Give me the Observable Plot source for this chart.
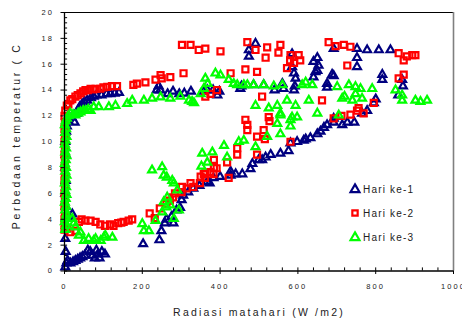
<!DOCTYPE html>
<html><head><meta charset="utf-8">
<script src="https://cdn.jsdelivr.net/npm/d3@7"></script>
<script src="https://cdn.jsdelivr.net/npm/@observablehq/plot@0.6"></script>
<style>
html,body{margin:0;padding:0;background:#fff;overflow:hidden;}
#wrap{position:relative;width:462px;height:320px;}
#wrap svg text{font-family:"Liberation Sans",Arial,sans-serif;fill:#222;}
g[aria-label="x-axis tick label"] text, g[aria-label="y-axis tick label"] text{letter-spacing:2.1px;}
#legend text{letter-spacing:1.2px;font-size:10px;}
</style>
</head><body>
<div id="wrap"></div>
<script>
const seriesNames = ["Hari ke-1","Hari ke-2","Hari ke-3"];
const seriesColors = ["#000080","#ff0000","#00ff00"];
const xTicks = [0,200,400,600,800,1000];
const yTicks = [0,2,4,6,8,10,12,14,16,18,20];
const xTitle = "Radiasi matahari (W /m2)";
const yTitle = "Perbedaan temperatur ( C";

// Hari ke-1 : [radiasi, perbedaan temperatur]
const day1 = [
[2,0.3],[5,0.6],[8,0.8],[15,0.6],[22,0.7],[28,0.8],[34,0.9],[40,1.0],[46,1.1],[52,1.2],[60,1.6],[66,1.5],[72,1.2],[78,1.0],[82,1.6],[86,1.3],[90,1.0],[96,1.5],[104,1.3],
[3,1.5],[2,2.5],[4,3.5],[10,4.2],[20,4.4],[3,5.0],[2,6.0],[3,7.0],[2,8.0],[3,9.0],[2,10.0],[4,10.8],[6,11.2],
[10,11.6],[18,11.9],[26,11.5],[31,12.2],[36,12.5],[39,12.7],[45,12.9],[51,13.1],[58,13.2],[68,13.4],[75,13.5],[82,13.6],[95,13.6],[108,13.7],[118,13.7],[129,13.75],[140,13.8],
[237,14.0],[242,14.3],[246,14.0],[265,13.7],[279,13.9],[295,13.7],[308,13.75],[325,13.9],[357,13.9],[367,14.0],[382,14.0],[393,13.6],[398,13.9],[452,14.1],[455,14.3],[486,14.4],[512,14.4],[540,14.0],[560,14.5],[563,14.1],[590,14.0],[592,14.3],[594,14.9],[590,15.3],[585,15.8],[585,16.8],[474,17.1],[474,16.6],[491,17.6],
[640,15.0],[645,15.4],[650,15.5],[653,15.9],[650,16.5],[640,16.2],[675,14.2],[675,14.5],[688,15.2],[692,15.1],[692,17.2],[752,17.2],[752,16.5],[752,15.8],[778,17.1],[808,17.1],[838,17.1],[817,14.8],[817,15.2],[868,14.8],[870,14.3],[858,13.6],[795,13.0],[800,13.3],[778,12.4],[765,12.2],
[202,2.1],[244,2.4],[249,3.1],[258,3.7],[262,4.0],[275,4.2],[280,3.7],[288,4.7],[297,4.9],[301,5.5],[305,5.85],[318,6.1],[331,6.4],[347,6.6],[367,6.9],[373,6.8],[383,7.2],[400,7.3],[427,7.4],[427,7.7],[440,7.5],[457,7.5],[478,7.9],[483,8.3],[499,8.6],[508,8.6],[517,8.8],[530,9.0],[555,9.1],[576,9.3],[581,9.9],[598,10.0],[615,10.1],[620,10.2],[632,10.3],[650,10.6],[658,10.8],[667,11.1],[675,11.3],[692,11.5],[692,11.8],[714,11.3],[727,11.5],[745,11.5]
];

// Hari ke-2
const day2 = [
[0,3.2],[1,3.6],[0,4.0],[1,4.5],[0,5.0],[1,5.5],[0,6.0],[1,6.5],[0,7.0],[1,7.5],[0,8.0],[1,8.5],[0,9.0],[1,9.5],[0,10.0],[1,10.5],[0,11.0],[1,11.5],[0,12.0],[2,12.4],
[6,12.8],[10,12.9],[15,13.2],[20,13.3],[28,13.5],[34,13.6],[41,13.75],[48,13.9],[54,14.0],[60,14.0],[67,14.1],[74,14.05],[80,14.1],[92,14.1],[100,14.2],[110,14.25],[122,14.3],[135,14.3],[177,14.4],[186,14.5],[208,14.6],[234,14.8],[247,15.15],[250,14.9],[272,15.0],[306,15.3],
[302,17.5],[324,17.5],[345,17.1],[362,17.2],[401,17.0],[427,15.3],[362,13.5],[375,13.7],[392,14.0],
[470,17.7],[491,17.1],[521,17.3],[517,16.5],[555,17.5],[550,16.9],[581,16.7],[602,16.7],[606,16.3],[590,16.1],[572,15.7],[580,16.3],[465,15.6],[495,15.4],[508,13.5],
[679,17.7],[697,17.4],[718,17.5],[735,17.35],[727,15.9],[859,16.85],[872,16.3],[880,16.6],[894,16.7],[902,16.7],[872,15.2],[859,14.9],[795,13.0],[756,12.6],[769,12.2],[752,12.4],[735,12.1],[712,12.0],[692,11.8],[662,13.2],
[465,11.7],[470,11.3],[470,10.9],[525,11.9],[527,11.6],[495,10.4],[512,10.9],[515,10.2],[444,9.5],[444,9.0],[495,9.0],[581,10.0],[384,8.6],[384,8.0],[418,8.4],[358,7.5],[375,7.65],[422,7.2],
[7,3.3],[15,3.0],[28,3.1],[37,3.8],[44,4.0],[54,3.9],[67,3.9],[80,3.8],[92,3.6],[104,3.5],[117,3.6],[126,3.5],[138,3.7],[146,3.75],[152,3.8],[165,3.9],[174,4.0],[219,4.45],[232,4.1],[245,4.85],[262,5.2],[271,5.45],[279,5.7],[284,6.0],[301,6.1],[302,6.5],[314,6.4],[324,6.8],[331,6.5],[348,6.8],[350,7.3],[361,7.2],[362,7.55],[383,7.5],[391,7.95]
];

// Hari ke-3
const day3 = [
[2,3.2],[4,3.5],[1,3.8],[3,4.1],[5,4.4],[2,4.7],[4,5.0],[1,5.3],[3,5.6],[5,5.9],[2,6.2],[4,6.5],[1,6.8],[3,7.1],[5,7.4],[2,7.7],[4,8.0],[1,8.3],[3,8.6],[5,8.9],[2,9.2],[4,9.5],[1,9.8],[3,10.1],[5,10.4],[2,10.7],[4,11.0],[1,11.3],[3,11.6],[6,11.8],
[10,12.0],[15,12.2],[22,12.1],[28,12.05],[35,12.2],[41,12.3],[48,12.4],[54,12.4],[61,12.5],[67,12.4],[75,12.7],[88,12.7],[114,12.7],[131,12.8],[161,12.95],[174,13.2],[204,13.2],[225,13.35],[247,13.45],[272,13.35],[298,13.5],[320,13.2],[328,13.1],[333,13.0],[350,13.7],[358,14.1],[362,14.9],[368,14.5],[388,15.3],[401,15.15],[422,14.8],[435,14.5],[444,14.4],[461,14.4],[470,14.4],[486,14.4],[512,14.4],[538,14.3],[560,14.4],[611,14.4],[620,14.6],[637,14.4],[701,14.25],[731,14.4],[748,14.25],[761,14.1],[791,14.1],[851,14.0],[868,13.6],[868,13.2],[902,13.2],[915,13.1],[932,13.2],
[491,12.8],[525,12.6],[547,12.8],[572,13.2],[594,12.8],[598,11.9],[585,11.9],[581,11.7],[555,12.05],[555,12.2],[628,13.2],[650,12.2],[714,13.35],[720,13.5],[748,13.7],[765,13.35],[740,13.2],[705,12.05],[547,11.4],[581,11.2],[555,10.6],[521,10.4],[461,10.1],[491,9.6],[410,9.7],[380,9.2],[418,8.8],[448,10.0],[367,8.4],[352,8.1],[354,9.1],
[3,4.05],[20,4.05],[24,3.7],[28,3.4],[41,3.0],[37,2.75],[50,2.35],[62,2.5],[75,2.35],[80,2.5],[93,2.35],[101,2.6],[105,2.75],[123,2.6],[200,3.65],[204,3.1],[217,3.1],[225,7.8],[251,8.05],[255,7.4],[263,7.25],[277,7.0],[281,6.8],[290,6.25],[281,4.05],[234,3.9],[251,4.55],[255,5.35],[264,5.7],[272,5.1],[294,4.7],[262,4.95]
];

const toRows = (arr) => arr.map(([x, y]) => ({x, y}));
const xMinor = d3.range(0, 1001, 40);
const yMinor = d3.range(0, 20.01, 0.4);

const chart = Plot.plot({
  width: 462, height: 320,
  marginLeft: 64, marginRight: 9, marginTop: 12, marginBottom: 49.5,
  x: {domain: [0, 1000]},
  y: {domain: [0, 20]},
  style: {fontFamily: "Liberation Sans, Arial, sans-serif", background: "#fff"},
  marks: [
    Plot.ruleX(xMinor, {y1: 0, y2: 0.24, stroke: "#000", strokeWidth: 1}),
    Plot.ruleY(yMinor, {x1: 0, x2: 8, stroke: "#000", strokeWidth: 1}),
    Plot.ruleY([20], {stroke: "#000", strokeWidth: 1.2}),
    Plot.ruleX([1000], {stroke: "#808080", strokeWidth: 1.6}),
    Plot.dot(toRows(day1), {x: "x", y: "y", symbol: "triangle", r: 2.9, stroke: seriesColors[0], fill: "none", strokeWidth: 2.2}),
    Plot.dot(toRows(day2), {x: "x", y: "y", symbol: "square", r: 3.4, stroke: seriesColors[1], fill: "none", strokeWidth: 2.2}),
    Plot.dot(toRows(day3), {x: "x", y: "y", symbol: "triangle", r: 2.9, stroke: seriesColors[2], fill: "none", strokeWidth: 2.2}),
    Plot.ruleY([0], {stroke: "#000", strokeWidth: 1.6}),
    Plot.ruleX([0], {stroke: "#000", strokeWidth: 1.3}),
    Plot.axisX({ticks: xTicks, tickSize: 3.5, tickPadding: 9, fontSize: 7.5, tickFormat: d => String(d), label: null, stroke: "#000"}),
    Plot.axisY({ticks: yTicks, tickSize: 3.5, tickPadding: 7, fontSize: 7.5, tickFormat: d => String(d), label: null, stroke: "#000"}),
    Plot.text([xTitle], {text: d => d, frameAnchor: "bottom", textAnchor: "middle", lineAnchor: "middle", dy: 41.5, fontSize: 10.5}),
    Plot.text([yTitle], {text: d => d, frameAnchor: "left", textAnchor: "middle", lineAnchor: "middle", dx: -47.5, dy: -6, rotate: -90, fontSize: 10.5})
  ]
});
document.getElementById("wrap").appendChild(chart);

// letter spacing of the axis titles
d3.select(chart).selectAll("text").each(function() {
  if (this.textContent === xTitle) d3.select(this).style("letter-spacing", "2.2px");
  if (this.textContent === yTitle) d3.select(this).style("letter-spacing", "2.7px");
});

// legend overlay
const lg = d3.select("#wrap").append("svg").attr("id", "legend")
  .attr("width", 462).attr("height", 320)
  .style("position", "absolute").style("left", "0px").style("top", "0px");
const legendSymbols = [d3.symbolTriangle, d3.symbolSquare, d3.symbolTriangle];
const legendSizes = [Math.PI * 3.3 * 3.3, Math.PI * 3.0 * 3.0, Math.PI * 3.3 * 3.3];
const rowsY = [189.5, 213, 237.5];
seriesNames.forEach((name, i) => {
  const g = lg.append("g").attr("transform", `translate(355,${rowsY[i]})`);
  g.append("path").attr("d", d3.symbol(legendSymbols[i], legendSizes[i])())
    .attr("fill", "none").attr("stroke", seriesColors[i]).attr("stroke-width", 2.2);
  g.append("text").attr("x", 8).attr("dy", "0.35em").attr("font-size", 10)
    .attr("font-family", "Liberation Sans, Arial, sans-serif").attr("fill", "#222").text(name);
});
</script>
</body></html>
